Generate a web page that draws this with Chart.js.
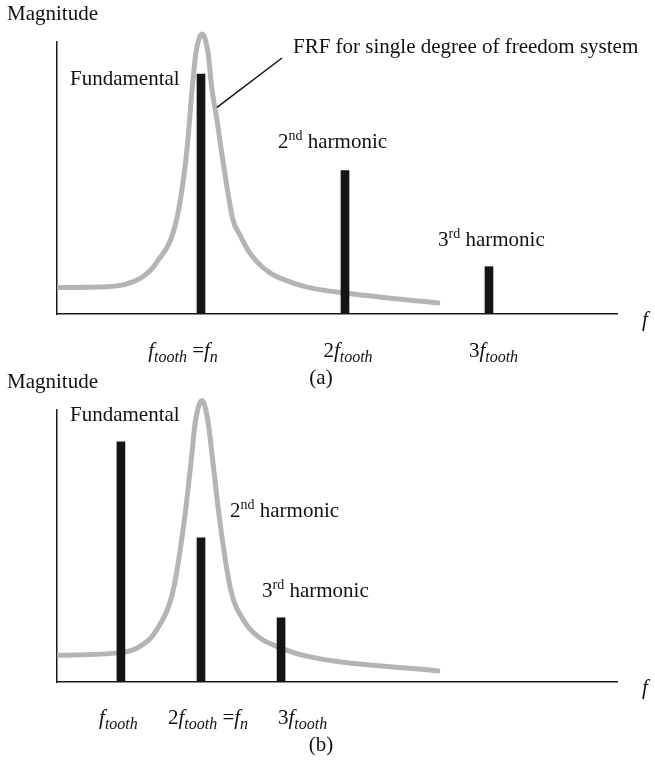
<!DOCTYPE html>
<html>
<head>
<meta charset="utf-8">
<script src="https://cdn.jsdelivr.net/npm/chart.js@4.4.1/dist/chart.umd.min.js"></script>
<style>
  html, body { margin: 0; padding: 0; background: #fff; }
  #wrap { position: relative; width: 655px; height: 766px; overflow: hidden; }
  canvas { position: absolute; left: 0; }
  #chartA { top: 0; }
  #chartB { top: 368px; }
</style>
</head>
<body>
<div id="wrap">
  <canvas id="chartA" width="655" height="398"></canvas>
  <canvas id="chartB" width="655" height="398"></canvas>
</div>
<script>
// Frequency in units of f / f_n, magnitude in arbitrary units (axis height = 100)

// (a) tooth frequency equal to the natural frequency
const harmonicFreqA = [1.0, 2.0, 3.0];
const harmonicMagA  = [88.2, 52.7, 17.4];
const frfFreqA = [0, 0.35, 0.58, 0.69, 0.83, 0.90, 0.94, 0.965, 1.007, 1.049, 1.074, 1.111, 1.144, 1.222, 1.271, 1.326, 1.396, 1.479, 1.549, 1.736, 2.0, 2.66];
const frfMagA  = [9.7, 10.0, 13.2, 18.8, 34.6, 59.2, 83.5, 96.0, 102.9, 96.0, 83.5, 71.3, 59.2, 34.6, 29.0, 23.5, 18.8, 15.1, 13.2, 9.9, 7.7, 4.0];
const tickLabelsA = ["f_{tooth} =f_{n}", "2f_{tooth}", "3f_{tooth}"];

// (b) twice the tooth frequency equal to the natural frequency
const harmonicFreqB = [0.444, 1.0, 1.556];
const harmonicMagB  = [88.3, 53.0, 23.6];
const frfFreqB = [0, 0.444, 0.576, 0.694, 0.808, 0.882, 0.935, 0.960, 1.007, 1.05, 1.078, 1.132, 1.206, 1.306, 1.396, 1.526, 1.734, 2.66];
const frfMagB  = [9.85, 10.8, 13.1, 19.3, 34.0, 58.6, 83.0, 95.4, 103.5, 95.4, 83.0, 58.6, 34.0, 21.9, 16.7, 13.1, 9.5, 4.0];
const tickLabelsB = ["f_{tooth}", "2f_{tooth} =f_{n}", "3f_{tooth}"];

const harmonicNames = ["Fundamental", "2^{nd} harmonic", "3^{rd} harmonic"];

const SERIF = '"Liberation Serif", "Times New Roman", serif';
const BASE = 21, SUB = 16, SUP = 14;

// Split "a_{b}c^{d}" into base / subscript / superscript pieces;
// in math mode letters are set in italic, digits and symbols upright.
function parseRuns(str, math) {
  const out = [];
  const re = /([_^])\{([^}]*)\}|([^_^]+)/g;
  let m;
  while ((m = re.exec(str))) {
    const mode = m[1] ? (m[1] === '_' ? 'sub' : 'sup') : 'base';
    const text = m[1] ? m[2] : m[3];
    if (math) {
      const parts = text.match(/[A-Za-z]+|[^A-Za-z]+/g) || [];
      parts.forEach(p => out.push({ text: p, mode, italic: /[A-Za-z]/.test(p) }));
    } else {
      out.push({ text, mode, italic: false });
    }
  }
  return out;
}

function runFont(r) {
  const size = r.mode === 'base' ? BASE : (r.mode === 'sub' ? SUB : SUP);
  return (r.italic ? 'italic ' : '') + size + 'px ' + SERIF;
}

function drawRuns(ctx, str, x, y, align, math) {
  const runs = parseRuns(str, math);
  let total = 0;
  runs.forEach(r => { ctx.font = runFont(r); r.w = ctx.measureText(r.text).width; total += r.w; });
  let cx = align === 'center' ? x - total / 2 : x;
  ctx.textBaseline = 'alphabetic';
  ctx.textAlign = 'left';
  runs.forEach(r => {
    ctx.font = runFont(r);
    const dy = r.mode === 'sub' ? 5 : (r.mode === 'sup' ? -8 : 0);
    ctx.fillText(r.text, cx, y + dy);
    cx += r.w;
  });
}

// Labels, tick captions and the FRF call-out drawn on top of each panel
const annotate = {
  id: 'annotate',
  afterDraw(chart, args, opts) {
    const ctx = chart.ctx;
    const xs = chart.scales.x, ys = chart.scales.y;
    ctx.save();
    ctx.fillStyle = '#111';
    drawRuns(ctx, 'Magnitude', 7, 20, 'left', false);
    opts.names.forEach((n, i) => {
      const p = opts.namePos[i];
      drawRuns(ctx, n, p[0], p[1], 'left', false);
    });
    opts.ticks.forEach((t, i) => {
      const px = xs.getPixelForValue(opts.tickAt[i]) + opts.tickShift[i];
      drawRuns(ctx, t, px, opts.tickY, 'center', true);
    });
    drawRuns(ctx, 'f', xs.right + 25, ys.bottom + 12, 'left', true);
    drawRuns(ctx, opts.caption, 321, opts.captionY, 'center', false);
    if (opts.callout) {
      const c = opts.callout;
      ctx.strokeStyle = '#111';
      ctx.lineWidth = 1.5;
      ctx.beginPath();
      ctx.moveTo(xs.getPixelForValue(c.fromX), ys.getPixelForValue(c.fromY));
      ctx.lineTo(c.to[0], c.to[1]);
      ctx.stroke();
      drawRuns(ctx, c.text, c.textPos[0], c.textPos[1], 'left', false);
    }
    ctx.restore();
  }
};

function makeChart(id, height, hx, hy, fx, fy, annot) {
  return new Chart(document.getElementById(id), {
    type: 'bar',
    data: {
      datasets: [
        {
          type: 'bar',
          data: hx.map((x, i) => ({ x, y: hy[i] })),
          backgroundColor: '#141414',
          barThickness: 8,
          order: 0
        },
        {
          type: 'line',
          data: fx.map((x, i) => ({ x, y: fy[i] })),
          borderColor: '#b4b4b4',
          borderWidth: 5,
          pointRadius: 0,
          fill: false,
          cubicInterpolationMode: 'monotone',
          clip: false,
          order: 1
        }
      ]
    },
    options: {
      responsive: false,
      animation: false,
      devicePixelRatio: 1,
      layout: { padding: { left: 57, right: 38, top: 42, bottom: height - 314 } },
      plugins: { legend: { display: false }, tooltip: { enabled: false }, annotate: annot },
      scales: {
        x: {
          type: 'linear', min: 0, max: 3.889, offset: false,
          grid: { display: false, drawTicks: false },
          ticks: { display: false },
          border: { color: '#1a1a1a', width: 1.5 }
        },
        y: {
          min: 0, max: 100,
          grid: { display: false, drawTicks: false },
          ticks: { display: false },
          border: { color: '#1a1a1a', width: 1.5 }
        }
      }
    },
    plugins: [annotate]
  });
}

makeChart('chartA', 398, harmonicFreqA, harmonicMagA, frfFreqA, frfMagA, {
  names: harmonicNames,
  namePos: [[70, 85], [278, 148], [438, 246]],
  ticks: tickLabelsA,
  tickAt: harmonicFreqA,
  tickShift: [-18, 3, 4.5],
  tickY: 357,
  caption: '(a)',
  captionY: 384,
  callout: {
    fromX: 1.111, fromY: 76,
    to: [282, 58],
    text: 'FRF for single degree of freedom system',
    textPos: [293, 53]
  }
});

makeChart('chartB', 398, harmonicFreqB, harmonicMagB, frfFreqB, frfMagB, {
  names: harmonicNames,
  namePos: [[70, 53], [230, 149], [262, 229]],
  ticks: tickLabelsB,
  tickAt: harmonicFreqB,
  tickShift: [-2.5, 7, 21.5],
  tickY: 356,
  caption: '(b)',
  captionY: 383,
  callout: null
});
</script>
</body>
</html>
